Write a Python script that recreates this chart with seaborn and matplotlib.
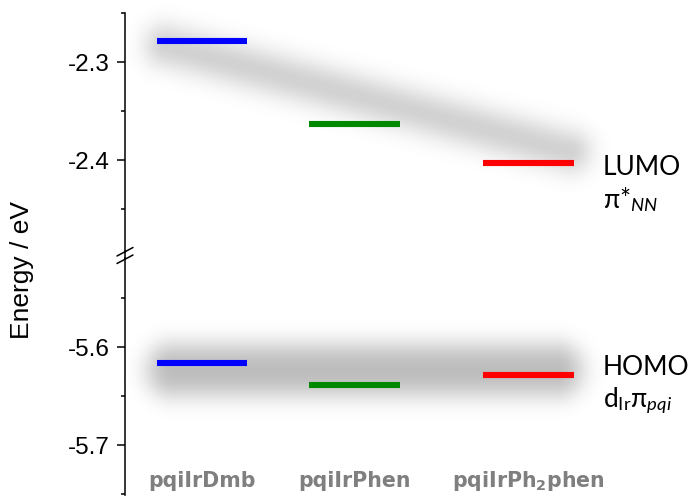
import numpy as np
import pandas as pd
import matplotlib
matplotlib.use("Agg")
import matplotlib.pyplot as plt
from matplotlib.ticker import MultipleLocator, FixedLocator, FormatStrFormatter
from matplotlib.lines import Line2D
import seaborn as sns

# ---- data -------------------------------------------------------------
compounds = ["pqiIrDmb", "pqiIrPhen", "pqiIrPh2phen"]
compound_labels = ["pqiIrDmb", "pqiIrPhen", r"pqiIrPh$_{\mathbf{2}}$phen"]
lumo = [-2.278, -2.363, -2.403]          # eV
homo = [-5.616, -5.639, -5.628]          # eV
level_colors = ["#0000ff", "#008800", "#ff0000"]
upper_ticks = [-2.3, -2.4]
lower_ticks = [-5.6, -5.7]

# ---- layout / style ---------------------------------------------------
W, H, DPI = 696, 497, 100
bar_centers = [0.505, 1.508, 2.65]
bar_width = 0.595
upper_lim = (-2.494, -2.2495)
lower_lim = (-5.751, -5.509)

sns.set_theme(style="ticks")
plt.rcParams["font.family"] = ["Liberation Sans", "DejaVu Sans"]
plt.rcParams["axes.unicode_minus"] = False
plt.rcParams["mathtext.fontset"] = "custom"
plt.rcParams["mathtext.rm"] = "Lato"
plt.rcParams["mathtext.it"] = "Lato:italic"
plt.rcParams["mathtext.bf"] = "DejaVu Sans:bold"
plt.rcParams["mathtext.fallback"] = "stixsans"

fig = plt.figure(figsize=(W / DPI, H / DPI), dpi=DPI)
fig.patch.set_facecolor("white")


def px_box(left, top, right, bottom):
    return [left / W, 1 - bottom / H, (right - left) / W, (bottom - top) / H]


ax_up = fig.add_axes(px_box(125, 13, 696, 252))
ax_lo = fig.add_axes(px_box(125, 258, 696, 495))

# long-form table of level segments
rows = []
for name, c, e_l, e_h in zip(compounds, bar_centers, lumo, homo):
    for x in (c - bar_width / 2, c + bar_width / 2):
        rows.append({"compound": name, "x": x, "E": e_l, "level": "LUMO"})
        rows.append({"compound": name, "x": x, "E": e_h, "level": "HOMO"})
levels = pd.DataFrame(rows)
palette = dict(zip(compounds, level_colors))

for ax, lvl, lim, ticks in ((ax_up, "LUMO", upper_lim, upper_ticks),
                            (ax_lo, "HOMO", lower_lim, lower_ticks)):
    sns.lineplot(data=levels[levels["level"] == lvl], x="x", y="E",
                 hue="compound", units="compound", estimator=None,
                 palette=palette, lw=4.4, solid_capstyle="butt",
                 legend=False, ax=ax, zorder=3)
    ax.set_xlim(0, 3.75)
    ax.set_ylim(*lim)
    ax.set_facecolor("none")
    ax.yaxis.set_major_locator(FixedLocator(ticks))
    ax.yaxis.set_major_formatter(FormatStrFormatter("%.1f"))
    ax.yaxis.set_minor_locator(MultipleLocator(0.05))
    for side in ("top", "right", "bottom"):
        ax.spines[side].set_visible(False)
    ax.spines["left"].set_color("black")
    ax.spines["left"].set_linewidth(1.1)
    ax.tick_params(axis="y", which="major", left=True, length=5.8, width=1.1,
                   direction="out", labelsize=17.5, pad=5, color="black",
                   labelcolor="black")
    ax.tick_params(axis="y", which="minor", left=True, length=3, width=1.1,
                   direction="out", color="black")
    ax.tick_params(axis="x", bottom=False, labelbottom=False)
    ax.set_xlabel("")
    ax.set_ylabel("")


# ---- soft grey bands behind the levels -------------------------------
def to_px(ax, x, y):
    dx, dy = ax.transData.transform((x, y))
    return dx, H - dy


def erf(z):
    # Abramowitz & Stegun 7.1.26
    s = np.sign(z)
    a = np.abs(z)
    t = 1.0 / (1.0 + 0.3275911 * a)
    poly = t * (0.254829592 + t * (-0.284496736 + t * (1.421413741
               + t * (-1.453152027 + t * 1.061405429))))
    return s * (1.0 - poly * np.exp(-a * a))


yy, xx = np.mgrid[0:H, 0:W] + 0.5


def band(p0, p1, half, sigma, peak):
    """Blurred capsule around the segment p0-p1 (pixel coords, y down)."""
    (x0, y0), (x1, y1) = p0, p1
    vx, vy = x1 - x0, y1 - y0
    t = np.clip(((xx - x0) * vx + (yy - y0) * vy) / (vx * vx + vy * vy), 0, 1)
    d = np.hypot(xx - (x0 + t * vx), yy - (y0 + t * vy))
    k = sigma * np.sqrt(2)
    prof = 0.5 * (erf((half - d) / k) + erf((half + d) / k))
    return peak * prof / erf(half / k)


lumo_band = band(to_px(ax_up, 0.27, -2.283), to_px(ax_up, 2.92, -2.391),
                 half=15, sigma=13, peak=0.18)
homo_band = band(to_px(ax_lo, 0.32, -5.6235), to_px(ax_lo, 2.83, -5.6235),
                 half=24, sigma=12, peak=0.26)
alpha = 1 - (1 - lumo_band) * (1 - homo_band)
shade = np.zeros((H, W, 4))
shade[..., 3] = np.clip(alpha, 0, 1)

ax_bg = fig.add_axes([0, 0, 1, 1], zorder=-1)
ax_bg.imshow(shade, extent=(0, W, H, 0), interpolation="bilinear")
ax_bg.set_xlim(0, W)
ax_bg.set_ylim(H, 0)
ax_bg.axis("off")


# ---- axis break marks -------------------------------------------------
def fig_line(xs, ys, **kw):
    fig.add_artist(Line2D([x / W for x in xs], [1 - y / H for y in ys],
                          transform=fig.transFigure, color="black", **kw))


fig_line([125, 125], [251, 259], lw=1.1)
fig_line([117, 133], [256, 247.5], lw=1.1)
fig_line([117, 133], [263.5, 255], lw=1.1)

# ---- text -------------------------------------------------------------
fig.text(22 / W, 1 - 270 / H, "Energy / eV", rotation=90, ha="center",
         va="center", fontsize=19, color="black")

for x, lab in zip(bar_centers, compound_labels):
    ax_lo.text(x, (495 - 487) / 237, lab, transform=ax_lo.get_xaxis_transform(),
               ha="center", va="baseline", fontsize=14.8, fontweight="bold",
               family="DejaVu Sans", color="#7f7f7f", clip_on=False)

side_font = dict(family=["Lato", "DejaVu Sans"], fontsize=19, color="black",
                 ha="left", va="baseline")
fig.text(603 / W, 1 - 175 / H, "LUMO", **side_font)
fig.text(603 / W, 1 - 208 / H, r"$\mathrm{\pi}{*}_{\mathit{NN}}$", **side_font)
fig.text(603 / W, 1 - 375 / H, "HOMO", **side_font)
fig.text(603 / W, 1 - 408 / H,
         r"$\mathrm{d}_{\mathrm{Ir}}\mathrm{\pi}_{\mathit{pqi}}$", **side_font)

fig.savefig("out.png", dpi=DPI)
